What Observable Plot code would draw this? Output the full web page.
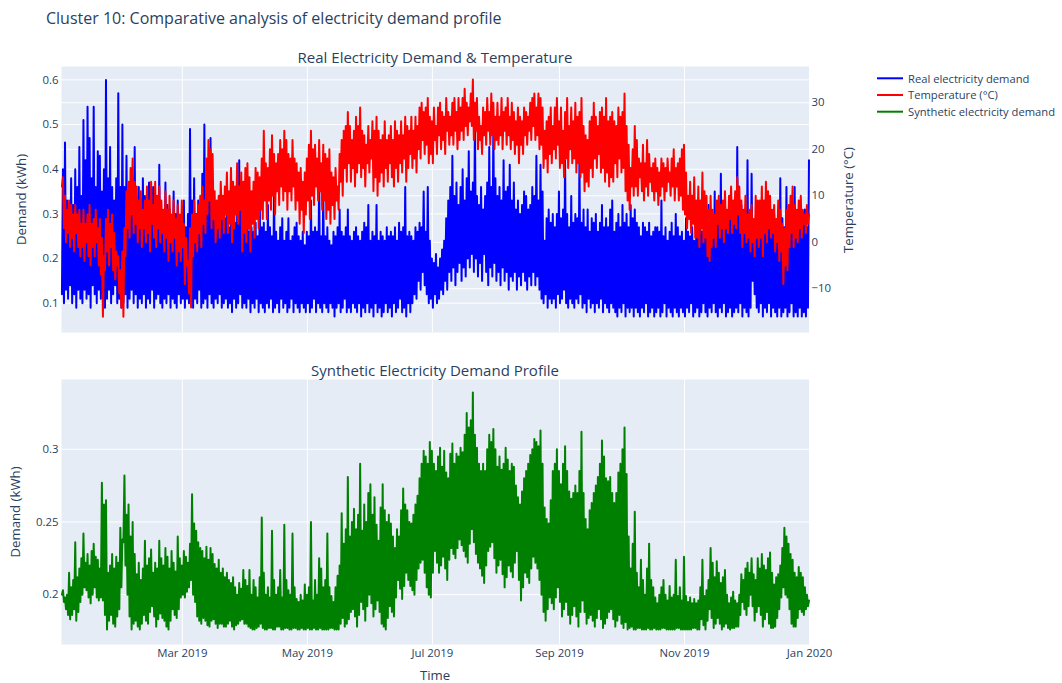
<!DOCTYPE html>
<html>
<head>
<meta charset="utf-8">
<title>Cluster 10: Comparative analysis of electricity demand profile</title>
<script src="https://cdn.jsdelivr.net/npm/d3@7"></script>
<script src="https://cdn.jsdelivr.net/npm/@observablehq/plot@0.6"></script>
<style>
  html, body { margin: 0; padding: 0; background: #fff; }
  #figure { position: relative; width: 1062px; height: 683px; overflow: hidden; }
  #figure svg { position: absolute; left: 0; top: 0; }
</style>
</head>
<body>
<div id="figure"></div>
<script>
// ---- Texts ----
const chartTitle = "Cluster 10: Comparative analysis of electricity demand profile";
const topPanelTitle = "Real Electricity Demand & Temperature";
const bottomPanelTitle = "Synthetic Electricity Demand Profile";
const demandAxisTitle = "Demand (kWh)";
const tempAxisTitle = "Temperature (°C)";
const timeAxisTitle = "Time";
const legendLabels = ["Real electricity demand", "Temperature (°C)", "Synthetic electricity demand"];
const legendColors = ["blue", "red", "green"];

// ---- Ticks ----
const monthTicks = ["2019-03-01", "2019-05-01", "2019-07-01", "2019-09-01", "2019-11-01", "2020-01-01"];
const demandTicks = [0.1, 0.2, 0.3, 0.4, 0.5, 0.6];
const tempTicks = [-10, 0, 10, 20, 30];
const synthTicks = [0.2, 0.25, 0.3];

// ---- Series: one daily trough (morning) and one daily peak (evening) per day of 2019 ----
// Real electricity demand, kWh
const demandLows = [
  0.12,0.10,0.13,0.11,0.14,0.10,0.12,0.09,0.13,0.11,
  0.10,0.13,0.11,0.12,0.09,0.14,0.12,0.10,0.13,0.11,
  0.12,0.09,0.11,0.13,0.10,0.12,0.14,0.10,0.11,0.09,
  0.10,0.12,0.09,0.11,0.13,0.10,0.12,0.09,0.11,0.10,
  0.12,0.09,0.11,0.10,0.13,0.09,0.11,0.12,0.10,0.09,
  0.11,0.10,0.12,0.09,0.11,0.10,0.09,0.12,0.10,0.11,
  0.09,0.11,0.10,0.12,0.09,0.11,0.10,0.13,0.09,0.10,
  0.11,0.09,0.12,0.10,0.09,0.11,0.10,0.12,0.09,0.10,
  0.11,0.09,0.10,0.08,0.11,0.09,0.10,0.12,0.09,0.10,
  0.09,0.11,0.08,0.10,0.09,0.11,0.08,0.10,0.09,0.08,
  0.10,0.09,0.11,0.08,0.09,0.10,0.08,0.11,0.09,0.10,
  0.08,0.09,0.11,0.08,0.10,0.09,0.08,0.10,0.09,0.08,
  0.10,0.08,0.09,0.11,0.08,0.10,0.09,0.08,0.10,0.09,
  0.08,0.10,0.09,0.07,0.09,0.10,0.08,0.09,0.11,0.08,
  0.09,0.08,0.10,0.09,0.08,0.10,0.07,0.09,0.08,0.10,
  0.08,0.09,0.07,0.10,0.08,0.09,0.07,0.08,0.10,0.08,
  0.09,0.07,0.10,0.08,0.09,0.11,0.08,0.09,0.07,0.10,
  0.08,0.10,0.12,0.11,0.15,0.13,0.17,0.14,0.12,0.10,
  0.11,0.09,0.12,0.10,0.11,0.13,0.12,0.15,0.13,0.17,
  0.15,0.18,0.14,0.17,0.19,0.15,0.18,0.16,0.20,0.18,
  0.21,0.17,0.20,0.16,0.19,0.15,0.21,0.17,0.14,0.18,
  0.16,0.19,0.15,0.17,0.14,0.18,0.15,0.17,0.13,0.16,
  0.15,0.17,0.13,0.16,0.14,0.17,0.15,0.13,0.16,0.14,
  0.17,0.14,0.16,0.13,0.11,0.10,0.12,0.09,0.11,0.10,
  0.11,0.09,0.12,0.10,0.11,0.13,0.10,0.09,0.11,0.10,
  0.09,0.11,0.10,0.12,0.09,0.10,0.08,0.11,0.09,0.10,
  0.08,0.10,0.09,0.11,0.08,0.10,0.09,0.08,0.10,0.09,
  0.08,0.07,0.09,0.08,0.10,0.07,0.09,0.08,0.09,0.07,
  0.09,0.08,0.07,0.09,0.08,0.10,0.07,0.08,0.09,0.07,
  0.08,0.09,0.07,0.08,0.10,0.07,0.09,0.08,0.07,0.09,
  0.08,0.07,0.09,0.08,0.07,0.09,0.08,0.10,0.07,0.08,
  0.09,0.07,0.08,0.10,0.08,0.07,0.09,0.08,0.10,0.08,
  0.07,0.09,0.08,0.10,0.07,0.08,0.09,0.07,0.08,0.09,
  0.08,0.10,0.07,0.09,0.08,0.07,0.09,0.15,0.12,0.09,
  0.08,0.10,0.07,0.09,0.08,0.10,0.07,0.09,0.08,0.07,
  0.09,0.07,0.08,0.09,0.07,0.08,0.10,0.07,0.08,0.07,
  0.09,0.07,0.08,0.07,0.09
];
const demandHighs = [
  0.40,0.46,0.33,0.31,0.38,0.32,0.40,0.36,0.45,0.34,
  0.51,0.42,0.54,0.47,0.38,0.54,0.36,0.44,0.43,0.35,
  0.40,0.60,0.38,0.45,0.36,0.33,0.38,0.57,0.36,0.50,
  0.36,0.43,0.33,0.30,0.38,0.45,0.32,0.36,0.30,0.38,
  0.34,0.30,0.37,0.33,0.36,0.29,0.33,0.41,0.31,0.30,
  0.37,0.32,0.31,0.28,0.35,0.30,0.33,0.28,0.30,0.33,
  0.27,0.30,0.49,0.33,0.38,0.30,0.33,0.29,0.39,0.50,
  0.31,0.33,0.47,0.30,0.31,0.28,0.33,0.30,0.32,0.29,
  0.33,0.27,0.29,0.30,0.28,0.30,0.42,0.31,0.27,0.28,
  0.30,0.26,0.27,0.26,0.28,0.25,0.34,0.27,0.28,0.26,
  0.32,0.27,0.25,0.36,0.26,0.24,0.27,0.29,0.24,0.26,
  0.29,0.24,0.25,0.27,0.28,0.25,0.24,0.26,0.23,0.26,
  0.25,0.33,0.26,0.27,0.26,0.38,0.25,0.36,0.25,0.27,
  0.24,0.23,0.26,0.25,0.27,0.31,0.26,0.25,0.27,0.31,
  0.25,0.24,0.26,0.27,0.25,0.24,0.26,0.28,0.27,0.32,
  0.24,0.26,0.25,0.32,0.24,0.26,0.25,0.24,0.27,0.25,
  0.26,0.25,0.27,0.24,0.28,0.26,0.27,0.36,0.25,0.26,
  0.25,0.24,0.27,0.26,0.28,0.27,0.35,0.26,0.36,0.24,
  0.20,0.19,0.21,0.18,0.20,0.22,0.24,0.29,0.33,0.36,
  0.43,0.34,0.37,0.32,0.36,0.40,0.33,0.38,0.44,0.35,
  0.37,0.50,0.34,0.32,0.36,0.31,0.34,0.37,0.45,0.36,
  0.49,0.38,0.34,0.36,0.33,0.42,0.35,0.36,0.41,0.33,
  0.37,0.31,0.33,0.30,0.32,0.35,0.34,0.31,0.32,0.36,
  0.34,0.43,0.33,0.41,0.35,0.24,0.29,0.31,0.28,0.30,
  0.27,0.30,0.35,0.29,0.31,0.42,0.30,0.27,0.34,0.28,
  0.30,0.29,0.42,0.28,0.31,0.27,0.31,0.26,0.29,0.28,
  0.30,0.26,0.28,0.32,0.27,0.29,0.27,0.31,0.33,0.26,
  0.28,0.30,0.27,0.32,0.28,0.30,0.27,0.32,0.29,0.31,
  0.28,0.27,0.25,0.28,0.27,0.26,0.28,0.25,0.26,0.27,
  0.27,0.26,0.33,0.25,0.27,0.24,0.26,0.28,0.25,0.30,
  0.27,0.25,0.26,0.24,0.29,0.26,0.25,0.27,0.24,0.26,
  0.27,0.29,0.26,0.28,0.30,0.32,0.27,0.29,0.35,0.28,
  0.30,0.39,0.29,0.31,0.28,0.33,0.29,0.28,0.31,0.45,
  0.30,0.32,0.29,0.31,0.42,0.30,0.39,0.28,0.27,0.29,
  0.26,0.30,0.28,0.27,0.32,0.29,0.27,0.30,0.28,0.31,
  0.38,0.29,0.27,0.36,0.30,0.28,0.27,0.36,0.29,0.27,
  0.30,0.28,0.31,0.27,0.42
];

// Temperature, °C
const tempLows = [
  12,3,0,2,-1,1,-2,2,-1,-3,
  -1,-4,0,-3,-5,-1,-3,0,-5,-7,
  -16,-6,-2,-5,-1,-6,-8,-5,-11,-14,
  -16,-3,3,1,6,2,4,0,3,-1,
  3,0,2,-2,4,1,-1,3,0,2,
  -2,1,-4,0,-2,1,-5,-2,-4,-1,
  -9,-5,-11,-14,-3,0,-2,2,-1,4,
  2,6,9,3,5,0,3,1,5,2,
  6,2,4,0,3,6,4,7,-2,2,
  0,3,-2,4,1,5,3,7,5,9,
  5,9,7,10,6,11,8,12,9,11,
  7,11,9,12,7,9,4,7,2,6,
  9,5,10,8,12,9,11,7,9,5,
  7,4,8,5,9,7,13,10,16,13,
  17,13,16,12,15,17,14,16,12,17,
  15,18,11,14,10,13,15,12,16,13,
  17,14,12,16,13,17,15,18,13,16,
  19,16,18,15,20,18,22,19,21,17,
  19,17,22,19,23,20,22,19,24,21,
  23,21,24,20,22,24,22,25,23,26,
  25,22,24,20,22,19,23,21,24,21,
  23,20,22,21,23,20,24,21,23,20,
  22,19,21,17,21,19,23,21,24,22,
  25,22,23,20,21,16,18,15,19,17,
  20,18,21,16,17,14,18,16,20,17,
  18,15,17,14,15,11,13,12,16,14,
  18,16,19,15,16,13,15,12,14,13,
  17,14,18,15,16,11,9,7,12,10,
  12,10,14,11,9,12,10,13,11,9,
  11,8,10,12,9,11,13,10,12,9,
  12,9,10,7,6,3,5,2,4,1,
  1,-1,3,0,1,-3,-4,-1,1,-1,
  4,1,3,0,3,2,5,2,4,3,
  6,2,-1,2,0,1,-2,0,-3,1,
  -1,1,-3,2,0,3,1,2,-2,0,
  -4,-2,-9,-5,-6,-1,2,-1,1,0,
  3,1,4,2,4
];
const tempHighs = [
  14,10,7,9,8,6,8,6,7,4,
  7,4,6,8,4,5,7,3,5,1,
  -3,5,7,4,6,2,-2,-3,-6,-2,
  3,11,13,16,18,13,12,9,11,7,
  9,12,9,13,8,13,10,12,9,7,
  11,7,10,6,9,5,8,6,9,4,
  1,-4,3,6,9,6,8,10,12,9,
  18,22,20,19,11,9,10,13,10,12,
  15,11,16,13,12,17,12,15,13,16,
  17,14,11,13,16,15,14,18,24,17,
  16,20,23,19,17,19,22,20,24,22,
  19,18,22,18,17,15,16,13,15,18,
  21,24,20,21,18,22,17,21,19,18,
  20,15,14,16,12,19,22,24,25,28,
  25,22,24,27,25,29,24,23,21,25,
  22,26,24,27,24,22,23,26,22,23,
  25,22,26,24,23,26,23,27,25,24,
  27,24,27,25,29,30,28,29,31,27,
  26,29,25,29,30,28,27,31,28,27,
  30,31,28,31,29,31,33,30,29,32,
  35,30,31,27,25,29,28,31,28,32,
  30,27,30,27,31,28,29,31,27,30,
  28,26,29,27,26,29,28,27,30,31,
  32,29,32,31,29,24,26,27,29,25,
  29,31,26,29,24,28,31,25,29,26,
  30,27,28,31,25,23,22,26,27,30,
  27,25,28,29,27,31,26,27,28,26,
  25,29,27,28,32,25,21,16,20,25,
  22,18,17,21,17,22,19,16,17,18,
  16,15,18,17,16,18,15,18,20,16,
  17,18,20,21,15,10,13,10,14,9,
  12,9,15,11,10,7,10,7,6,9,
  10,8,9,11,7,10,12,9,11,14,
  12,9,7,10,6,7,8,5,10,9,
  9,12,9,13,11,10,7,8,5,9,
  7,4,3,7,8,10,12,8,7,9,
  10,7,6,8,6
];

// Synthetic electricity demand, kWh
const synthLows = [
  0.200,0.195,0.190,0.186,0.183,0.186,0.190,0.182,0.188,0.195,
  0.200,0.205,0.203,0.198,0.194,0.200,0.205,0.198,0.196,0.198,
  0.196,0.186,0.176,0.182,0.186,0.180,0.178,0.185,0.190,0.205,
  0.236,0.220,0.200,0.185,0.176,0.180,0.182,0.178,0.176,0.180,
  0.186,0.182,0.180,0.188,0.192,0.185,0.178,0.183,0.187,0.184,
  0.182,0.178,0.176,0.182,0.190,0.186,0.184,0.190,0.198,0.200,
  0.198,0.202,0.205,0.210,0.200,0.195,0.185,0.182,0.180,0.184,
  0.182,0.179,0.178,0.182,0.183,0.180,0.177,0.180,0.180,0.178,
  0.178,0.180,0.182,0.178,0.176,0.179,0.180,0.182,0.183,0.180,
  0.180,0.178,0.177,0.176,0.176,0.177,0.178,0.180,0.177,0.176,
  0.176,0.177,0.177,0.176,0.176,0.178,0.178,0.176,0.176,0.177,
  0.177,0.176,0.176,0.177,0.177,0.176,0.176,0.177,0.176,0.176,
  0.177,0.176,0.176,0.177,0.176,0.176,0.177,0.176,0.176,0.176,
  0.176,0.177,0.177,0.176,0.176,0.176,0.180,0.184,0.178,0.180,
  0.183,0.188,0.190,0.185,0.178,0.186,0.195,0.190,0.182,0.192,
  0.200,0.194,0.185,0.190,0.196,0.188,0.180,0.178,0.176,0.184,
  0.192,0.188,0.185,0.198,0.210,0.204,0.197,0.206,0.215,0.210,
  0.206,0.203,0.200,0.210,0.218,0.222,0.224,0.215,0.205,0.200,
  0.198,0.215,0.230,0.222,0.215,0.220,0.226,0.218,0.210,0.224,
  0.232,0.228,0.225,0.232,0.238,0.234,0.230,0.226,0.222,0.235,
  0.245,0.236,0.228,0.222,0.218,0.213,0.208,0.220,0.230,0.233,
  0.236,0.225,0.215,0.220,0.224,0.214,0.205,0.212,0.220,0.216,
  0.212,0.222,0.230,0.210,0.196,0.205,0.215,0.212,0.208,0.218,
  0.226,0.222,0.218,0.210,0.200,0.188,0.182,0.190,0.198,0.194,
  0.190,0.198,0.205,0.195,0.185,0.190,0.195,0.186,0.180,0.186,
  0.192,0.185,0.178,0.188,0.196,0.188,0.180,0.184,0.186,0.182,
  0.178,0.184,0.190,0.183,0.177,0.180,0.184,0.188,0.190,0.183,
  0.178,0.182,0.186,0.180,0.177,0.181,0.176,0.177,0.178,0.176,
  0.176,0.177,0.177,0.176,0.176,0.176,0.177,0.176,0.176,0.177,
  0.176,0.176,0.176,0.177,0.177,0.176,0.176,0.176,0.176,0.176,
  0.177,0.177,0.176,0.176,0.176,0.176,0.176,0.176,0.177,0.177,
  0.176,0.176,0.183,0.179,0.176,0.182,0.190,0.184,0.177,0.180,
  0.184,0.180,0.176,0.178,0.180,0.177,0.176,0.177,0.177,0.178,
  0.178,0.186,0.195,0.190,0.186,0.192,0.200,0.192,0.182,0.188,
  0.192,0.186,0.178,0.183,0.188,0.180,0.177,0.177,0.178,0.184,
  0.190,0.198,0.205,0.200,0.198,0.190,0.180,0.178,0.178,0.184,
  0.190,0.188,0.186,0.190,0.192
];
const synthHighs = [
  0.203,0.198,0.200,0.215,0.205,0.210,0.236,0.212,0.218,0.225,
  0.242,0.222,0.228,0.220,0.230,0.235,0.226,0.224,0.218,0.277,
  0.262,0.265,0.215,0.220,0.228,0.218,0.226,0.222,0.246,0.238,
  0.282,0.255,0.262,0.240,0.250,0.228,0.214,0.222,0.210,0.218,
  0.237,0.220,0.225,0.231,0.215,0.222,0.218,0.237,0.225,0.220,
  0.232,0.226,0.218,0.230,0.222,0.216,0.240,0.225,0.220,0.230,
  0.226,0.222,0.235,0.269,0.249,0.244,0.236,0.232,0.230,0.225,
  0.233,0.224,0.232,0.228,0.221,0.218,0.224,0.215,0.218,0.212,
  0.215,0.210,0.208,0.212,0.205,0.200,0.208,0.204,0.217,0.210,
  0.206,0.217,0.200,0.210,0.205,0.198,0.212,0.253,0.215,0.200,
  0.205,0.198,0.244,0.210,0.200,0.205,0.217,0.198,0.248,0.210,
  0.203,0.200,0.242,0.205,0.197,0.195,0.200,0.196,0.207,0.200,
  0.205,0.250,0.196,0.210,0.200,0.225,0.218,0.205,0.210,0.242,
  0.205,0.199,0.195,0.205,0.213,0.220,0.256,0.235,0.245,0.281,
  0.240,0.250,0.259,0.245,0.255,0.290,0.244,0.262,0.250,0.270,
  0.276,0.255,0.267,0.248,0.237,0.260,0.276,0.258,0.250,0.255,
  0.249,0.240,0.232,0.245,0.240,0.258,0.273,0.262,0.258,0.250,
  0.249,0.255,0.262,0.268,0.280,0.290,0.299,0.295,0.290,0.305,
  0.299,0.290,0.285,0.295,0.301,0.288,0.299,0.284,0.280,0.297,
  0.304,0.290,0.297,0.295,0.301,0.298,0.310,0.325,0.315,0.320,
  0.339,0.310,0.301,0.290,0.285,0.290,0.285,0.300,0.310,0.305,
  0.314,0.300,0.288,0.295,0.286,0.290,0.301,0.293,0.285,0.290,
  0.288,0.275,0.267,0.262,0.271,0.280,0.285,0.290,0.296,0.300,
  0.307,0.305,0.302,0.313,0.290,0.260,0.252,0.249,0.265,0.285,
  0.290,0.300,0.285,0.276,0.290,0.302,0.285,0.271,0.266,0.270,
  0.275,0.270,0.285,0.312,0.270,0.252,0.245,0.258,0.263,0.270,
  0.275,0.281,0.290,0.306,0.295,0.280,0.278,0.281,0.270,0.263,
  0.270,0.284,0.290,0.300,0.315,0.283,0.240,0.218,0.235,0.257,
  0.215,0.205,0.224,0.210,0.200,0.218,0.235,0.210,0.205,0.198,
  0.194,0.200,0.205,0.210,0.200,0.196,0.206,0.198,0.200,0.224,
  0.199,0.205,0.196,0.226,0.199,0.195,0.198,0.194,0.197,0.194,
  0.196,0.205,0.224,0.199,0.203,0.210,0.232,0.222,0.212,0.223,
  0.215,0.208,0.212,0.217,0.200,0.194,0.198,0.202,0.196,0.194,
  0.200,0.214,0.210,0.218,0.222,0.215,0.225,0.214,0.210,0.225,
  0.218,0.228,0.220,0.217,0.225,0.229,0.215,0.207,0.212,0.214,
  0.220,0.232,0.246,0.240,0.235,0.228,0.224,0.215,0.212,0.219,
  0.215,0.212,0.205,0.200,0.196
];

// ---- Layout ----
const FONT = '"Open Sans", verdana, arial, sans-serif';
const INK = "#2a3f5f";
const PANEL = "#E5ECF6";
const W = 1062, H = 683;
const PLOT_LEFT = 61, PLOT_RIGHT = 809;
const TOP_PANEL = [66, 332], BOTTOM_PANEL = [379, 644];
const timeRange = [new Date("2019-01-01T01:00Z"), new Date("2020-01-01T00:00Z")];
const demandRange = [0.0344, 0.630];
const tempRange = [-19.4, 37.8];
const synthRange = [0.1657, 0.348];

const DAY = 864e5, YEAR_START = Date.UTC(2019, 0, 1);
const monthDates = monthTicks.map(d => new Date(d + "T00:00Z"));

// Each day contributes its trough (06:00) then its peak (18:00).
function profile(lows, highs) {
  return lows.flatMap((lo, d) => [
    {date: new Date(YEAR_START + (d + 0.25) * DAY), value: lo},
    {date: new Date(YEAR_START + (d + 0.75) * DAY), value: highs[d]}
  ]);
}
const demandProfile = profile(demandLows, demandHighs);
const tempProfile = profile(tempLows, tempHighs);
const synthProfile = profile(synthLows, synthHighs);

const grid = {stroke: "#ffffff", strokeOpacity: 1, strokeWidth: 1};
const numFmt = d3.format("~g");

function panel([top, bottom], yDomain, marks) {
  return Plot.plot({
    width: W, height: H,
    marginLeft: PLOT_LEFT, marginRight: W - PLOT_RIGHT,
    marginTop: top, marginBottom: H - bottom,
    x: {type: "utc", domain: timeRange, axis: null},
    y: {domain: yDomain, axis: null},
    style: {background: "transparent", color: INK, fontFamily: FONT, fontSize: "11.4px", overflow: "visible"},
    marks
  });
}

const fig = document.getElementById("figure");

// Top panel, temperature scale: background, its grid and right axis
fig.append(panel(TOP_PANEL, tempRange, [
  Plot.frame({fill: PANEL, stroke: "none"}),
  Plot.gridY(tempTicks, grid),
  Plot.axisY(tempTicks, {anchor: "right", tickSize: 0, tickPadding: 2, tickFormat: d3.format("d"), label: null})
]));

// Top panel, demand scale: grid, left axis and demand line
fig.append(panel(TOP_PANEL, demandRange, [
  Plot.gridX(monthDates, grid),
  Plot.gridY(demandTicks, grid),
  Plot.axisY(demandTicks, {anchor: "left", tickSize: 0, tickPadding: 3, tickFormat: numFmt, label: null}),
  Plot.line(demandProfile, {x: "date", y: "value", stroke: legendColors[0], strokeWidth: 2})
]));

// Top panel, temperature line drawn over demand
fig.append(panel(TOP_PANEL, tempRange, [
  Plot.line(tempProfile, {x: "date", y: "value", stroke: legendColors[1], strokeWidth: 2})
]));

// Bottom panel: synthetic demand
fig.append(panel(BOTTOM_PANEL, synthRange, [
  Plot.frame({fill: PANEL, stroke: "none"}),
  Plot.gridX(monthDates, grid),
  Plot.gridY(synthTicks, grid),
  Plot.axisY(synthTicks, {anchor: "left", tickSize: 0, tickPadding: 3, tickFormat: numFmt, label: null}),
  Plot.axisX(monthDates, {anchor: "bottom", tickSize: 0, tickPadding: 4, tickFormat: d3.utcFormat("%b %Y"), label: null}),
  Plot.line(synthProfile, {x: "date", y: "value", stroke: legendColors[2], strokeWidth: 2})
]));

// Titles, axis titles and legend
const labels = d3.create("svg")
  .attr("width", W).attr("height", H)
  .style("font-family", FONT)
  .attr("fill", INK);

labels.append("text").attr("x", 46).attr("y", 24).attr("font-size", 16).text(chartTitle);
labels.append("text").attr("x", (PLOT_LEFT + PLOT_RIGHT) / 2).attr("y", 62.5)
  .attr("text-anchor", "middle").attr("font-size", 15).text(topPanelTitle);
labels.append("text").attr("x", (PLOT_LEFT + PLOT_RIGHT) / 2).attr("y", 375.5)
  .attr("text-anchor", "middle").attr("font-size", 15).text(bottomPanelTitle);

function vTitle(x, y, text) {
  labels.append("text").attr("transform", `translate(${x},${y}) rotate(-90)`)
    .attr("text-anchor", "middle").attr("font-size", 13.2).text(text);
}
vTitle(25.5, 199.5, demandAxisTitle);
vTitle(19.5, 512, demandAxisTitle);
vTitle(853, 200, tempAxisTitle);
labels.append("text").attr("x", (PLOT_LEFT + PLOT_RIGHT) / 2).attr("y", 679.5)
  .attr("text-anchor", "middle").attr("font-size", 13.2).text(timeAxisTitle);

legendLabels.forEach((label, i) => {
  const y = 78.3 + i * 16.7;
  labels.append("line").attr("x1", 877).attr("x2", 903).attr("y1", y).attr("y2", y)
    .attr("stroke", legendColors[i]).attr("stroke-width", 2);
  labels.append("text").attr("x", 908).attr("y", y + 4.2).attr("font-size", 11.2).text(label);
});

fig.append(labels.node());
</script>
</body>
</html>
